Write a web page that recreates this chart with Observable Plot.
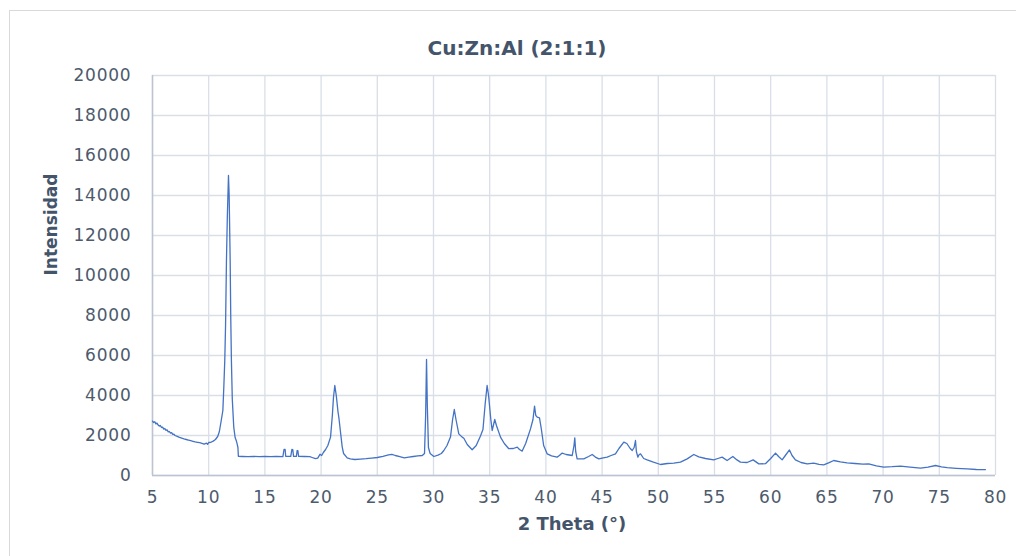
<!DOCTYPE html>
<html>
<head>
<meta charset="utf-8">
<script src="https://cdn.jsdelivr.net/npm/d3@7"></script>
<script src="https://cdn.jsdelivr.net/npm/@observablehq/plot@0.6"></script>
<style>
  html, body { margin: 0; padding: 0; background: #fff; }
  #wrap { position: relative; width: 1016px; height: 556px; overflow: hidden; }
  #border { position: absolute; left: 9px; top: 10px; width: 1100px; height: 700px; border: 1px solid #d9d9d9; box-sizing: border-box; }
  #chart { position: absolute; left: 0; top: 0; }
  g[aria-label="x-axis tick label"], g[aria-label="y-axis tick label"] { letter-spacing: 0.8px; }
  g[aria-label="chart-title"] { letter-spacing: 0.9px; }
  g[aria-label="x-title"] { letter-spacing: 1px; }
</style>
</head>
<body>
<div id="wrap"><div id="border"></div><div id="chart"></div></div>
<script>
const chartTitle = "Cu:Zn:Al (2:1:1)";
const xTitle = "2 Theta (°)";
const yTitle = "Intensidad";
const xTicks = [5, 10, 15, 20, 25, 30, 35, 40, 45, 50, 55, 60, 65, 70, 75, 80];
const yTicks = [0, 2000, 4000, 6000, 8000, 10000, 12000, 14000, 16000, 18000, 20000];

const twoTheta = [
  5.0, 5.1, 5.2, 5.3, 5.4, 5.5, 5.6, 5.7, 5.8, 5.9, 6.0, 6.1, 6.2, 6.3, 6.4, 6.5, 6.6, 6.7, 6.8, 6.9, 7.0, 7.2, 7.4, 7.6, 7.8,
  8.0, 8.2, 8.4, 8.6, 8.8, 9.0, 9.2, 9.4, 9.6, 9.8, 9.9, 10.0, 10.2, 10.4, 10.6, 10.8, 10.95, 11.1, 11.26, 11.35,
  11.43, 11.5, 11.58, 11.66, 11.76, 11.82, 11.91, 11.96, 12.02, 12.1, 12.23, 12.35, 12.45, 12.53, 12.6, 12.64, 13.0, 13.5, 14.0, 14.5,
  15.0, 15.5, 16.0, 16.6, 16.7, 16.8, 16.85, 17.3, 17.4, 17.48, 17.55, 17.8, 17.87, 17.93, 18.0, 18.5, 19.0, 19.2, 19.5, 19.7,
  19.9, 20.05, 20.2, 20.4, 20.6, 20.84, 21.0, 21.1, 21.22, 21.35, 21.5, 21.58, 21.7, 21.88, 22.0, 22.32, 22.6, 23.0, 23.5, 24.0,
  24.5, 25.0, 25.5, 26.0, 26.3, 26.6, 27.0, 27.4, 27.8, 28.2, 28.6, 29.0, 29.2, 29.3, 29.38, 29.45, 29.55, 29.7, 30.03, 30.4,
  30.7, 30.92, 31.2, 31.51, 31.7, 31.85, 32.0, 32.25, 32.55, 32.7, 33.0, 33.44, 33.8, 34.18, 34.4, 34.6, 34.77, 34.9, 35.1, 35.22,
  35.45, 35.6, 35.96, 36.3, 36.7, 37.1, 37.45, 37.65, 37.89, 38.2, 38.63, 38.85, 38.99, 39.1, 39.23, 39.43, 39.6, 39.8, 40.12, 40.5,
  41.0, 41.2, 41.45, 41.8, 42.34, 42.5, 42.57, 42.65, 42.78, 43.37, 43.8, 44.12, 44.4, 44.71, 45.1, 45.45, 45.8, 46.19, 46.5, 46.93,
  47.2, 47.5, 47.68, 47.85, 47.97, 48.05, 48.18, 48.3, 48.42, 48.7, 49.01, 49.5, 50.2, 50.8, 51.38, 51.97, 52.57, 53.16, 53.6, 54.2,
  54.93, 55.3, 55.68, 56.12, 56.63, 57.0, 57.31, 57.9, 58.44, 58.94, 59.53, 60.0, 60.43, 60.7, 61.02, 61.3, 61.67, 61.9, 62.2, 62.7,
  63.25, 63.83, 64.3, 64.72, 65.2, 65.61, 66.2, 66.8, 67.5, 68.2, 68.72, 69.4, 70.06, 70.8, 71.55, 72.4, 73.33, 74.0, 74.66, 75.2,
  75.7, 76.5, 77.48, 78.3, 79.1
];
const intensity = [
  2720, 2650, 2690, 2580, 2620, 2520, 2470, 2500, 2400, 2420, 2320, 2350, 2260, 2280, 2180, 2200, 2120, 2140, 2060, 2070, 2000, 1960, 1910, 1870, 1830,
  1800, 1770, 1740, 1710, 1680, 1660, 1640, 1610, 1570, 1620, 1560, 1650, 1660, 1720, 1800, 1950, 2200, 2700, 3250, 4500,
  5750, 7500, 10750, 13000, 15000, 14000, 10750, 8000, 5750, 3800, 2420, 1900, 1750, 1580, 1400, 960, 950, 940, 955, 945,
  950, 945, 950, 945, 1300, 1300, 960, 960, 1300, 1290, 960, 960, 1250, 1240, 960, 950, 940, 900, 840, 870,
  1060, 1000, 1150, 1300, 1500, 1920, 3000, 3900, 4500, 4000, 3200, 2900, 2300, 1420, 1100, 880, 830, 800, 820, 840,
  870, 900, 960, 1030, 1060, 1000, 940, 880, 920, 950, 980, 1000, 1100, 3000, 5800, 3500, 1400, 1100, 950, 1020,
  1100, 1250, 1500, 1920, 2800, 3300, 2800, 2080, 1920, 1860, 1550, 1290, 1500, 1980, 2300, 3600, 4500, 4000, 2800, 2250,
  2800, 2500, 1920, 1600, 1340, 1350, 1420, 1300, 1220, 1600, 2330, 2800, 3470, 3000, 2920, 2880, 2300, 1500, 1080, 980,
  920, 1000, 1120, 1050, 1000, 1500, 1880, 1200, 830, 830, 950, 1050, 920, 830, 880, 920, 1000, 1080, 1350, 1670,
  1600, 1350, 1250, 1400, 1750, 1200, 920, 1050, 1080, 850, 780, 680, 550, 600, 620, 670, 830, 1050, 930, 850,
  780, 850, 920, 750, 950, 780, 670, 650, 780, 580, 590, 850, 1120, 950, 780, 1000, 1280, 1000, 780, 650,
  580, 620, 560, 530, 640, 750, 680, 630, 600, 570, 580, 480, 420, 440, 470, 420, 370, 420, 500, 430,
  390, 360, 330, 300, 290
];

const data = twoTheta.map((x, i) => ({x, y: intensity[i]}));

const textColor = "#4d5a6c";
const titleColor = "#44546a";

const chart = Plot.plot({
  width: 1016,
  height: 556,
  marginLeft: 152,
  marginRight: 21,
  marginTop: 75,
  marginBottom: 81,
  style: {fontFamily: "'DejaVu Sans', sans-serif", fontSize: "17px", color: textColor, background: "transparent", overflow: "visible"},
  x: {domain: [5, 80], ticks: xTicks},
  y: {domain: [0, 20000], ticks: yTicks},
  marks: [
    Plot.gridX(xTicks, {stroke: "#d9dee7", strokeOpacity: 1, strokeWidth: 1.3}),
    Plot.gridY(yTicks, {stroke: "#d9dee7", strokeOpacity: 1, strokeWidth: 1.3}),
    Plot.ruleX([5], {stroke: "#bcc4d1", strokeWidth: 1.5}),
    Plot.ruleY([0], {stroke: "#bcc4d1", strokeWidth: 1.5}),
    Plot.axisX(xTicks, {tickSize: 0, tickPadding: 15, label: null, tickFormat: d => String(d), fill: textColor}),
    Plot.axisY(yTicks, {tickSize: 0, tickPadding: 21, label: null, tickFormat: d => String(d), fill: textColor}),
    Plot.line(data, {x: "x", y: "y", stroke: "#4472c4", strokeWidth: 1.3, strokeLinejoin: "round"}),
    Plot.text([chartTitle], {frameAnchor: "top", dx: -57, dy: -35, fontSize: 20, fontWeight: "bold", fill: titleColor, ariaLabel: "chart-title"}),
    Plot.text([xTitle], {frameAnchor: "bottom", dx: -2, dy: 54, fontSize: 18, fontWeight: "bold", fill: titleColor, ariaLabel: "x-title"}),
    Plot.text([yTitle], {frameAnchor: "left", dx: -101, rotate: -90, fontSize: 17, fontWeight: "bold", fill: titleColor, ariaLabel: "y-title"})
  ]
});
document.getElementById("chart").appendChild(chart);
</script>
</body>
</html>
